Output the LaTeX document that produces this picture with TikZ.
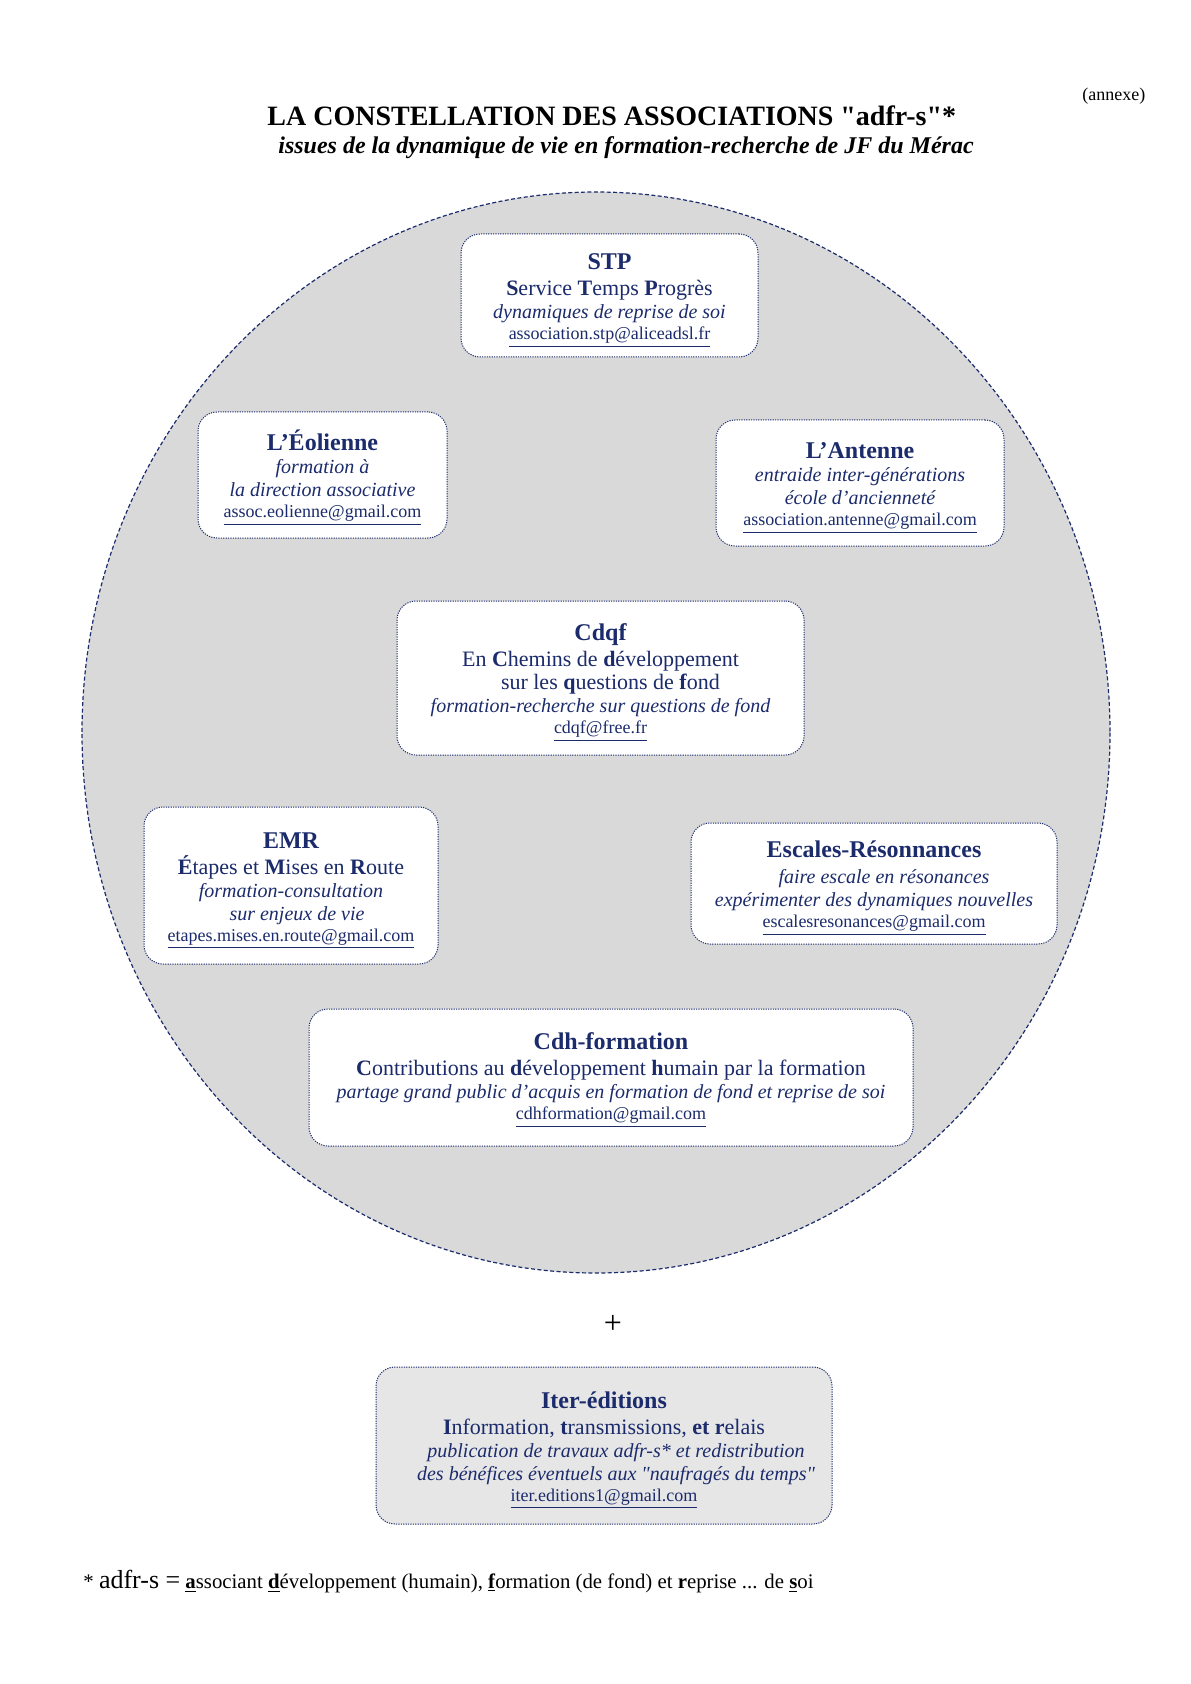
\documentclass[tikz,border=0pt]{standalone}
\usepackage{fontspec}
\setmainfont{Liberation Serif}[Ligatures=TeXOff]
\usetikzlibrary{calc}
\definecolor{bleunuit}{HTML}{1B2B6B}
\definecolor{grisfond}{HTML}{D9D9D9}
\definecolor{grisclair}{HTML}{E6E6E6}
\newcommand{\nom}[1]{{\fontsize{12}{14}\selectfont\bfseries\rule{0pt}{13pt}#1}}
\newcommand{\devise}[1]{{\fontsize{11}{13}\selectfont #1}}
\newcommand{\but}[1]{{\fontsize{10}{12}\selectfont\itshape #1}}
\newcommand{\courriel}[1]{{\fontsize{9}{11}\selectfont\underline{#1}}}
\newcommand{\lettre}[1]{\textbf{#1}}
\tikzset{assoc/.style={draw=bleunuit,fill=#1,dash pattern=on 0.6pt off 0.6pt,line width=0.5pt,rounded corners=9.5pt,align=center,text=bleunuit,font=\fontsize{10}{11.5}\selectfont},assoc/.default=white}
\tikzset{constellation/.style={draw=bleunuit,fill=grisfond,dash pattern=on 2pt off 1.2pt,line width=0.6pt}}

\begin{document}
\begin{tikzpicture}[x=0.5pt,y=-0.5pt]

	\useasboundingbox (0,0) rectangle (1190,1684);

	% Le titre et le sous-titre
	\node [anchor=base west, inner sep=0pt, font=\fontsize{14}{16}\selectfont\bfseries]
		(titre) at (267,126) {LA CONSTELLATION DES ASSOCIATIONS "adfr-s"*};
	\node [anchor=base west, inner sep=0pt, font=\fontsize{12}{14}\selectfont\bfseries\itshape]
		(soustitre) at (278,154) {issues de la dynamique de vie en formation-recherche de JF du Mérac};

	% La mention "(annexe)"
	\node [anchor=base west, inner sep=0pt, font=\fontsize{9}{11}\selectfont]
		(annexe) at (1082,101) {(annexe)};

	% La constellation
	\draw [constellation] (596,732.5) ellipse [x radius=514, y radius=540.5];

	% STP
	\node [assoc, minimum width=148.5pt, minimum height=61.5pt] (stp) at (609.5,295.5)
		{\nom{STP}\\[1.5pt]
		 \devise{\lettre{S}ervice \lettre{T}emps \lettre{P}rogrès}\\
		 \but{dynamiques de reprise de soi}\\[-1pt]
		 \courriel{association.stp@aliceadsl.fr}};

	% L'Éolienne
	\node [assoc, minimum width=124.5pt, minimum height=63pt] (eolienne) at (322.5,475)
		{\nom{L’Éolienne}\\
		 \but{formation à}\\
		 \but{la direction associative}\\[-1pt]
		 \courriel{assoc.eolienne@gmail.com}};

	% L'Antenne
	\node [assoc, minimum width=144pt, minimum height=63pt] (antenne) at (860,483)
		{\nom{L’Antenne}\\
		 \but{entraide inter-générations}\\
		 \but{école d’ancienneté}\\[-1pt]
		 \courriel{association.antenne@gmail.com}};

	% Cdqf
	\node [assoc, minimum width=203.5pt, minimum height=77pt] (cdqf) at (600.5,678)
		{\nom{Cdqf}\\[1.5pt]
		 \devise{En \lettre{C}hemins de \lettre{d}éveloppement}\\
		 \devise{\hspace{10pt}sur les \lettre{q}uestions de \lettre{f}ond}\\
		 \but{formation-recherche sur questions de fond}\\[-1pt]
		 \courriel{cdqf@free.fr}};

	% EMR
	\node [assoc, minimum width=147pt, minimum height=78.5pt] (emr) at (291,885.5)
		{\nom{EMR}\\[1.5pt]
		 \devise{\lettre{É}tapes et \lettre{M}ises en \lettre{R}oute}\\
		 \but{formation-consultation}\\
		 \but{\hspace{6pt}sur enjeux de vie}\\[-1pt]
		 \courriel{etapes.mises.en.route@gmail.com}\rule[-4pt]{0pt}{1pt}};

	% Escales-Résonnances
	\node [assoc, minimum width=183pt, minimum height=60.5pt] (escales) at (874,883.5)
		{\nom{Escales-Résonnances}\\[1.5pt]
		 \but{\hspace{10pt}faire escale en résonances}\\
		 \but{expérimenter des dynamiques nouvelles}\\[-1pt]
		 \courriel{escalesresonances@gmail.com}};

	% Cdh-formation
	\node [assoc, minimum width=302pt, minimum height=68.5pt] (cdh) at (611,1077.5)
		{\nom{Cdh-formation}\\[1.5pt]
		 \devise{\lettre{C}ontributions au \lettre{d}éveloppement \lettre{h}umain par la formation}\\
		 \but{partage grand public d’acquis en formation de fond et reprise de soi}\\[-1pt]
		 \courriel{cdhformation@gmail.com}\rule[-6pt]{0pt}{1pt}};

	% Le signe plus
	\node [font=\fontsize{16}{18}\selectfont] (plus) at (613,1324) {+};

	% Iter-éditions
	\node [assoc=grisclair, minimum width=228pt, minimum height=78.5pt] (iter) at (604,1445.5)
		{\nom{Iter-éditions}\\[1.5pt]
		 \devise{\lettre{I}nformation, \lettre{t}ransmissions, \lettre{et} \lettre{r}elais}\\
		 \but{\hspace{12pt}publication de travaux adfr-s* et redistribution}\\
		 \but{\hspace{12pt}des bénéfices éventuels aux "naufragés du temps"}\\[-1pt]
		 \courriel{iter.editions1@gmail.com}};

	% La note
	\node [anchor=base west, inner sep=0pt, font=\fontsize{10.4}{12.5}\selectfont] (note) at (83,1588)
		{* {\fontsize{13}{15}\selectfont adfr-s =} \underline{\textbf{a}}ssociant
		 \underline{\textbf{d}}éveloppement (humain), \underline{\textbf{f}}ormation (de fond)
		 et \textbf{r}eprise ... de \underline{\textbf{s}}oi};

\end{tikzpicture}
\end{document}
